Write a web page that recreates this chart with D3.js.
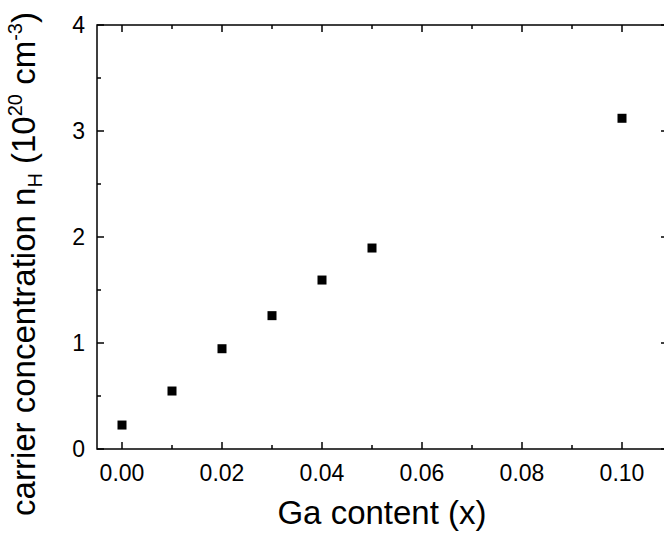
<!DOCTYPE html>
<html lang="en">
<head>
  <meta charset="utf-8">
  <title>Carrier concentration vs Ga content</title>
  <script src="https://d3js.org/d3.v7.min.js"></script>
  <style>
  body { margin: 0; background: #fff; }
  svg text { font-family: "Liberation Sans", Arial, sans-serif; fill: #000; }
  </style>
</head>
<body>
<script>

var gaContent = [0.00, 0.01, 0.02, 0.03, 0.04, 0.05, 0.10];
var carrierConc = [0.226, 0.547, 0.946, 1.258, 1.594, 1.896, 3.12];
var xTicks = [0.00, 0.02, 0.04, 0.06, 0.08, 0.10];
var xMinor = [0.01, 0.03, 0.05, 0.07, 0.09];
var yTicks = [0, 1, 2, 3, 4];
var yMinor = [0.5, 1.5, 2.5, 3.5];

var width = 664, height = 540;
var plotL = 97, plotR = 668, plotT = 25, plotB = 449;

var x = d3.scaleLinear().domain([-0.005, 0.1092]).range([plotL, plotR]);
var y = d3.scaleLinear().domain([0, 4]).range([plotB, plotT]);

var svg = d3.select("body").append("svg")
    .attr("width", width)
    .attr("height", height);

// frame ticks, all pointing inward
function tickLines(vals, len, horiz) {
  vals.forEach(function(v) {
    if (horiz) {
      svg.append("line").attr("x1", x(v)).attr("x2", x(v)).attr("y1", plotB).attr("y2", plotB - len)
        .attr("stroke", "#000").attr("stroke-width", 1.5);
      svg.append("line").attr("x1", x(v)).attr("x2", x(v)).attr("y1", plotT).attr("y2", plotT + len)
        .attr("stroke", "#000").attr("stroke-width", 1.5);
    } else {
      svg.append("line").attr("x1", plotL).attr("x2", plotL + len).attr("y1", y(v)).attr("y2", y(v))
        .attr("stroke", "#000").attr("stroke-width", 1.5);
      svg.append("line").attr("x1", plotR).attr("x2", plotR - len).attr("y1", y(v)).attr("y2", y(v))
        .attr("stroke", "#000").attr("stroke-width", 1.5);
    }
  });
}
tickLines(xTicks, 7, true);
tickLines(xMinor, 4, true);
tickLines(yTicks, 7, false);
tickLines(yMinor, 4, false);

svg.append("rect")
    .attr("x", plotL).attr("y", plotT)
    .attr("width", plotR - plotL).attr("height", plotB - plotT)
    .attr("fill", "none").attr("stroke", "#000").attr("stroke-width", 1.5);

// tick labels
svg.selectAll(".xl").data(xTicks).enter().append("text")
    .attr("x", function(d) { return x(d); })
    .attr("y", plotB + 32)
    .attr("text-anchor", "middle")
    .style("font-size", "23px")
    .text(function(d) { return d3.format(".2f")(d); });

svg.selectAll(".yl").data(yTicks).enter().append("text")
    .attr("x", plotL - 12)
    .attr("y", function(d) { return y(d) + 8; })
    .attr("text-anchor", "end")
    .style("font-size", "23px")
    .text(function(d) { return d; });

// points
svg.selectAll(".pt").data(gaContent).enter().append("rect")
    .attr("x", function(d) { return x(d) - 4.5; })
    .attr("y", function(d, i) { return y(carrierConc[i]) - 4.5; })
    .attr("width", 9).attr("height", 9)
    .attr("fill", "#000");

// axis titles
svg.append("text")
    .attr("x", 382).attr("y", 524)
    .attr("text-anchor", "middle")
    .style("font-size", "33px")
    .text("Ga content (x)");

var yt = svg.append("text")
    .attr("transform", "translate(35,264) rotate(-90)")
    .attr("text-anchor", "middle")
    .style("font-size", "33px");
yt.append("tspan").text("carrier concentration n");
yt.append("tspan").attr("dy", 7).style("font-size", "20px").text("H");
yt.append("tspan").attr("dy", -7).text(" (10");
yt.append("tspan").attr("dy", -13).style("font-size", "20px").text("20");
yt.append("tspan").attr("dy", 13).text(" cm");
yt.append("tspan").attr("dy", -13).style("font-size", "20px").text("-3");
yt.append("tspan").attr("dy", 13).text(")");

</script>
</body>
</html>
